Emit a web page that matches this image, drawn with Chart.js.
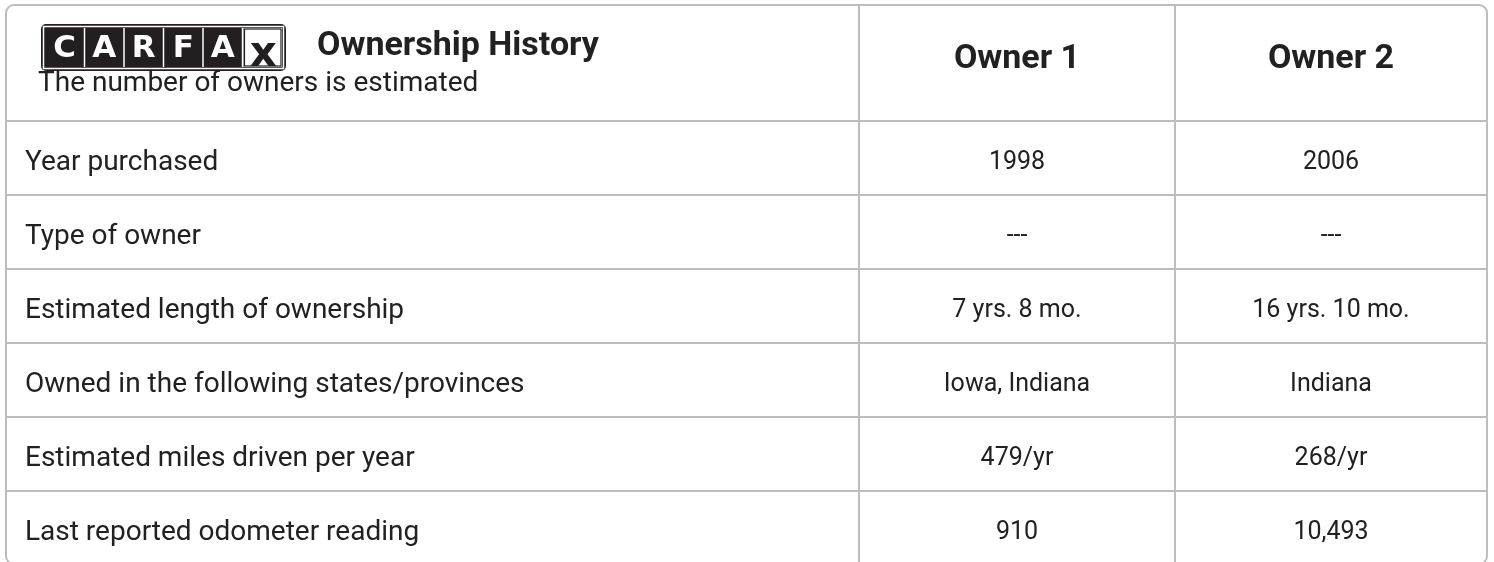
<!DOCTYPE html>
<html>
<head>
<meta charset="utf-8">
<title>Ownership History</title>
<script src="https://cdn.jsdelivr.net/npm/chart.js@4.4.1/dist/chart.umd.min.js"></script>
<style>
  body { margin: 0; background: #fff; }
  #chart { display: block; }
</style>
</head>
<body>
<canvas id="chart" width="1494" height="562"></canvas>
<script>
// table content
const title = 'Ownership History';
const subtitle = 'The number of owners is estimated';
const logoLetters = ['C', 'A', 'R', 'F', 'A', 'x'];
const owners = ['Owner 1', 'Owner 2'];
const rowLabels = [
  'Year purchased',
  'Type of owner',
  'Estimated length of ownership',
  'Owned in the following states/provinces',
  'Estimated miles driven per year',
  'Last reported odometer reading'
];
const owner1 = ['1998', '---', '7 yrs. 8 mo.', 'Iowa, Indiana', '479/yr', '910'];
const owner2 = ['2006', '---', '16 yrs. 10 mo.', 'Indiana', '268/yr', '10,493'];

// layout, in px
const colWidths = [853, 316, 312];
const headerHeight = 116;
const rowHeight = 74;
const lineColor = '#bdbdbd';
const textColor = '#212121';
const labelFont = '28px Roboto';
const valueFont = '25px Roboto';
const headFont = 'bold 34px Roboto';

const colEdges = [0];
colWidths.forEach(w => colEdges.push(colEdges[colEdges.length - 1] + w));
const rowEdges = [0, headerHeight];
rowLabels.forEach(() => rowEdges.push(rowEdges[rowEdges.length - 1] + rowHeight));
const rowMid = i => headerHeight + rowHeight * (i + 0.5);
const colMid = c => (colEdges[c] + colEdges[c + 1]) / 2;

function textDataset(label, texts, xFn, yFn, opts) {
  return Object.assign({
    label: label,
    texts: texts,
    data: texts.map((t, i) => ({ x: xFn(i), y: yFn(i) })),
    pointRadius: 0,
    pointHoverRadius: 0
  }, opts);
}

const datasets = [
  textDataset('rows', rowLabels, () => colEdges[0], rowMid, { align: 'left', font: labelFont, dx: 19, dy: 5 }),
  textDataset(owners[0], owner1, () => colMid(1), rowMid, { align: 'center', font: valueFont, dx: 0, dy: 5 }),
  textDataset(owners[1], owner2, () => colMid(2), rowMid, { align: 'center', font: valueFont, dx: 0, dy: 5 }),
  // header cells sit at the middle of each owner column
  textDataset('owners', owners, i => colMid(i + 1), () => headerHeight / 2, { align: 'center', font: headFont, dx: 0, dy: -4 })
];

function roundRect(ctx, x, y, w, h, r) {
  ctx.beginPath();
  ctx.moveTo(x + r, y);
  ctx.lineTo(x + w - r, y);
  ctx.arcTo(x + w, y, x + w, y + r, r);
  ctx.lineTo(x + w, y + h - r);
  ctx.arcTo(x + w, y + h, x + w - r, y + h, r);
  ctx.lineTo(x + r, y + h);
  ctx.arcTo(x, y + h, x, y + h - r, r);
  ctx.lineTo(x, y + r);
  ctx.arcTo(x, y, x + r, y, r);
  ctx.closePath();
}

function drawLogo(ctx, x, y, w, h) {
  const n = logoLetters.length;
  const pad = 4;
  const cw = (w - 2 * pad) / n;
  ctx.save();
  ctx.fillStyle = '#231f20';
  roundRect(ctx, x, y, w, h, 5);
  ctx.fill();
  ctx.strokeStyle = '#fff';
  ctx.lineWidth = 1.5;
  ctx.strokeRect(x + 2.5, y + 2.5, w - 5, h - 5);
  for (let i = 0; i < n; i++) {
    const cx = x + pad + i * cw;
    if (i > 0) {
      ctx.beginPath();
      ctx.moveTo(cx, y + pad);
      ctx.lineTo(cx, y + h - pad);
      ctx.strokeStyle = '#fff';
      ctx.lineWidth = 1.5;
      ctx.stroke();
    }
    if (i === n - 1) {
      ctx.fillStyle = '#fff';
      ctx.fillRect(cx + 1, y + pad, cw - 1, h - 2 * pad);
      ctx.strokeStyle = '#231f20';
      ctx.lineWidth = 1.2;
      ctx.strokeRect(cx + 2, y + pad + 1, cw - 3, h - 2 * pad - 2);
      ctx.fillStyle = '#231f20';
      ctx.font = 'bold 42px "DejaVu Sans"';
      ctx.textAlign = 'center';
      ctx.textBaseline = 'alphabetic';
      ctx.fillText(logoLetters[i], cx + cw / 2 + 1, y + h - pad - 1);
    } else {
      ctx.fillStyle = '#fff';
      ctx.font = 'bold 31px "DejaVu Sans"';
      ctx.textAlign = 'center';
      ctx.textBaseline = 'middle';
      ctx.fillText(logoLetters[i], cx + cw / 2, y + h / 2 + 1);
    }
  }
  ctx.restore();
}

const tablePlugin = {
  id: 'tablePlugin',
  beforeDatasetsDraw(chart) {
    const { ctx, chartArea } = chart;
    ctx.save();
    ctx.strokeStyle = lineColor;
    ctx.lineWidth = 2;
    roundRect(ctx, chartArea.left, chartArea.top, chartArea.right - chartArea.left, chartArea.bottom - chartArea.top + 2, 8);
    ctx.stroke();
    ctx.restore();
  },
  afterDatasetsDraw(chart) {
    const { ctx } = chart;
    const xs = chart.scales.x, ys = chart.scales.y;
    ctx.save();
    ctx.fillStyle = textColor;
    chart.data.datasets.forEach((ds, di) => {
      const meta = chart.getDatasetMeta(di);
      ctx.font = ds.font;
      ctx.textAlign = ds.align;
      ctx.textBaseline = 'middle';
      meta.data.forEach((pt, i) => {
        ctx.fillText(ds.texts[i], pt.x + ds.dx, pt.y + ds.dy);
      });
    });
    // header cell: logo, title and note
    const left = xs.getPixelForValue(colEdges[0]);
    const top = ys.getPixelForValue(0);
    drawLogo(ctx, left + 35, top + 19, 245, 47);
    ctx.fillStyle = textColor;
    ctx.textAlign = 'left';
    ctx.textBaseline = 'alphabetic';
    ctx.font = headFont;
    ctx.fillText(title, left + 311, top + 50);
    ctx.font = labelFont;
    ctx.fillText(subtitle, left + 32, top + 86);
    ctx.restore();
  }
};

const gridOpts = { color: lineColor, lineWidth: 2, drawTicks: false };

new Chart(document.getElementById('chart'), {
  type: 'scatter',
  data: { datasets: datasets },
  options: {
    responsive: false,
    animation: false,
    events: [],
    layout: { padding: { left: 6, top: 5, right: 7, bottom: 0 } },
    plugins: { legend: { display: false }, tooltip: { enabled: false } },
    scales: {
      x: {
        type: 'linear',
        min: colEdges[0],
        max: colEdges[colEdges.length - 1],
        grid: gridOpts,
        border: { display: false },
        ticks: { display: false },
        afterBuildTicks: axis => {
          axis.ticks = colEdges.slice(1, -1).map(v => ({ value: v }));
        }
      },
      y: {
        type: 'linear',
        reverse: true,
        min: 0,
        max: 557,
        grid: gridOpts,
        border: { display: false },
        ticks: { display: false },
        afterBuildTicks: axis => {
          axis.ticks = rowEdges.slice(1, -1).map(v => ({ value: v }));
        }
      }
    }
  },
  plugins: [tablePlugin]
});
</script>
</body>
</html>
